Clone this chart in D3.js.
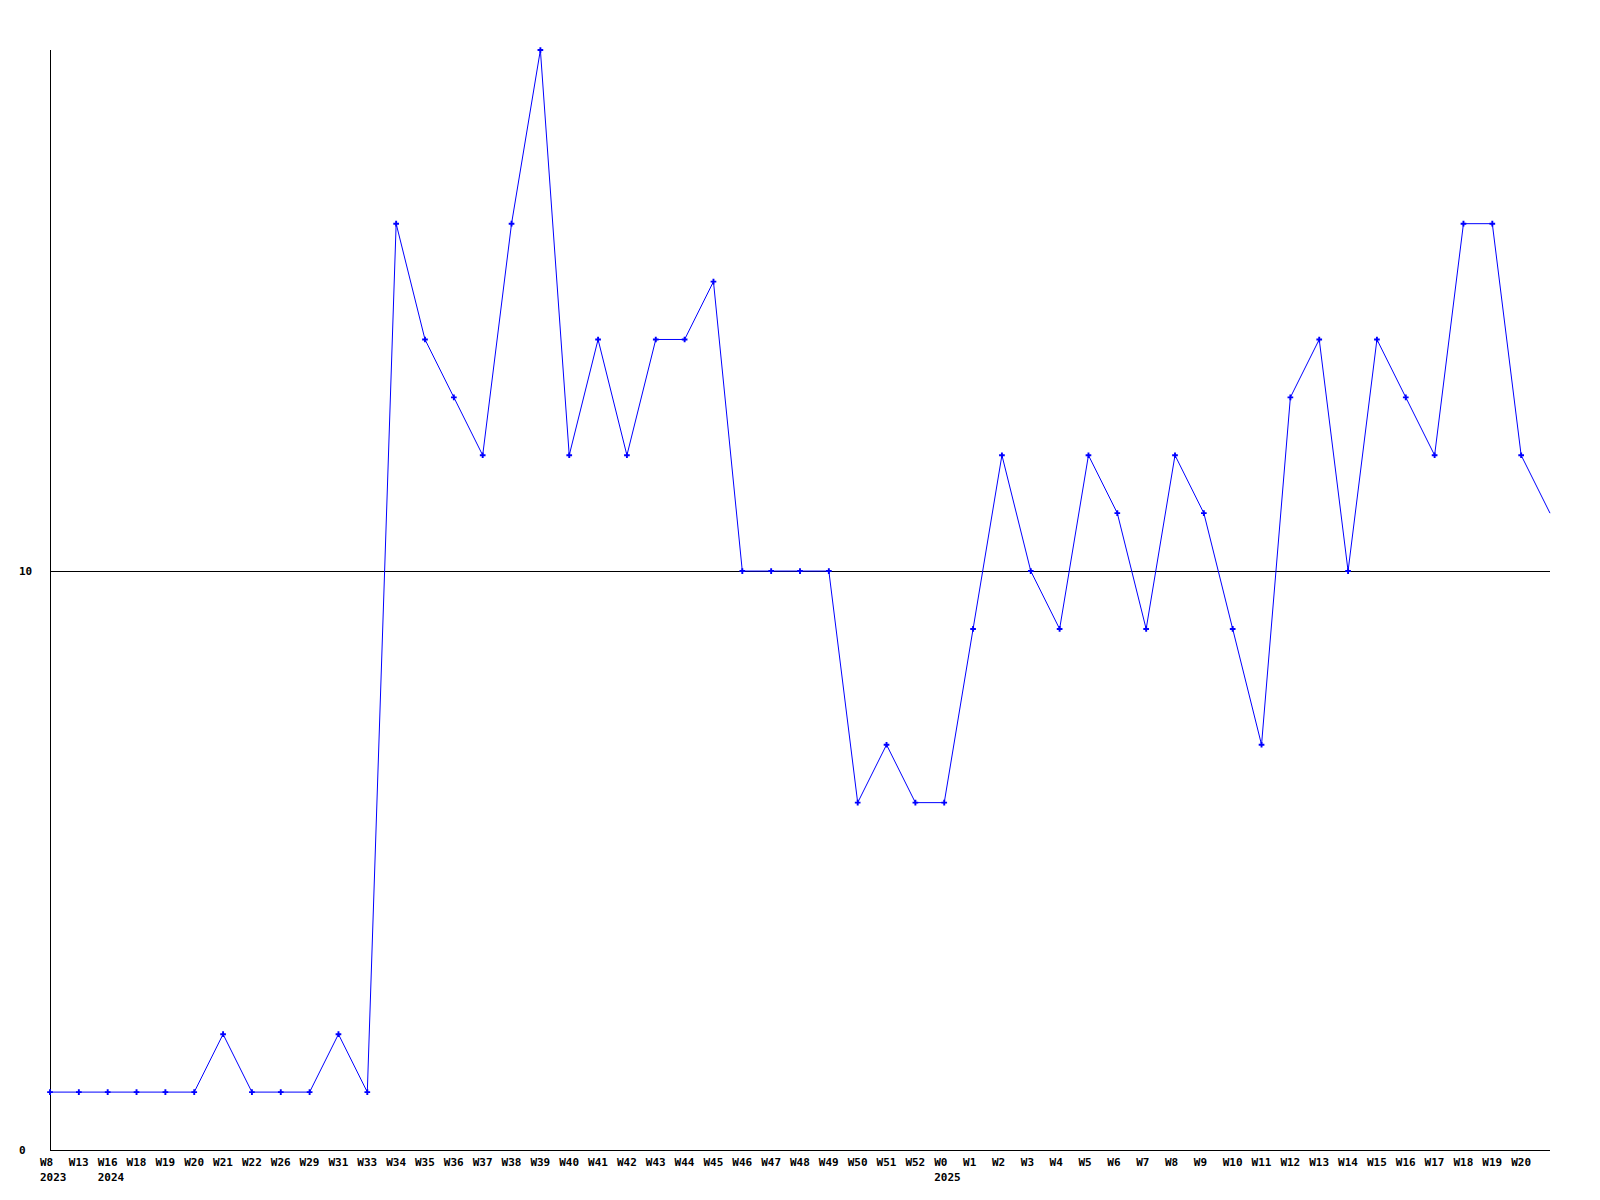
<!DOCTYPE html>
<html>
<head>
<meta charset="utf-8">
<script src="https://cdn.jsdelivr.net/npm/d3@7"></script>
<style>
  html, body { margin: 0; padding: 0; background: #fff; }
  svg { display: block; }
  text { font-family: "DejaVu Sans Mono", "Liberation Mono", monospace; font-weight: bold; font-size: 11px; fill: #000; }
</style>
</head>
<body>
<script>
const weeks = ["W8","W13","W16","W18","W19","W20","W21","W22","W26","W29","W31","W33",
  "W34","W35","W36","W37","W38","W39","W40","W41","W42","W43","W44","W45","W46","W47","W48","W49","W50","W51","W52",
  "W0","W1","W2","W3","W4","W5","W6","W7","W8","W9","W10","W11","W12","W13","W14","W15","W16","W17","W18","W19","W20","W21"];
const years = ["2023","","2024","","","","","","","","","",
  "","","","","","","","","","","","","","","","","","","",
  "2025","","","","","","","","","","","","","","","","","","","","",""];
const values = [1,1,1,1,1,1,2,1,1,1,2,1,
  16,14,13,12,16,19,12,14,12,14,14,15,10,10,10,10,6,7,6,
  6,9,12,10,9,12,11,9,12,11,9,7,13,14,10,14,13,12,16,16,12,11];
const yTicks = [0, 10];

const W = 1600, H = 1200;
const mLeft = 50, mRight = 1550, mTop = 50, mBottom = 1150;

const svg = d3.select("body").append("svg").attr("width", W).attr("height", H);

const x = d3.scalePoint().domain(d3.range(weeks.length)).range([mLeft, mRight]).padding(0);
const y = d3.scaleLinear().domain([0, 19]).range([mBottom, mTop]);

// axes lines
svg.append("line").attr("x1", mLeft + 0.5).attr("x2", mLeft + 0.5).attr("y1", mTop).attr("y2", mBottom)
  .attr("stroke", "#000").attr("shape-rendering", "crispEdges");
svg.append("line").attr("x1", mLeft).attr("x2", mRight).attr("y1", mBottom + 0.5).attr("y2", mBottom + 0.5)
  .attr("stroke", "#000").attr("shape-rendering", "crispEdges");

// y tick labels and gridline at 10
yTicks.forEach(t => {
  svg.append("text").attr("x", 19).attr("y", y(t)).attr("dy", "0.35em").text(t);
  if (t > 0) {
    const yy = Math.round(y(t)) + 0.5;
    svg.append("line").attr("x1", mLeft).attr("x2", mRight).attr("y1", yy).attr("y2", yy)
      .attr("stroke", "#000").attr("shape-rendering", "crispEdges");
  }
});

// x labels (last category sits on the edge and is not labelled)
const labelIdx = d3.range(weeks.length - 1);
svg.selectAll("text.wk").data(labelIdx).enter().append("text").attr("class", "wk")
  .attr("x", i => x(i) - 10).attr("y", mBottom + 12).attr("dy", "0.35em").text(i => weeks[i]);
svg.selectAll("text.yr").data(labelIdx.filter(i => years[i])).enter().append("text").attr("class", "yr")
  .attr("x", i => x(i) - 10).attr("y", mBottom + 27).attr("dy", "0.35em").text(i => years[i]);

// line
const line = d3.line().x((d, i) => x(i)).y(d => y(d));
svg.append("path").datum(values).attr("d", line).attr("fill", "none").attr("stroke", "#0000ff").attr("stroke-width", 1);

// markers (skip the edge point)
const sym = d3.symbol().type(d3.symbolCross).size(18);
svg.selectAll("path.mk").data(values.slice(0, values.length - 1)).enter().append("path").attr("class", "mk")
  .attr("transform", (d, i) => `translate(${x(i)},${y(d)})`).attr("d", sym).attr("fill", "#0000ff");
</script>
</body>
</html>
